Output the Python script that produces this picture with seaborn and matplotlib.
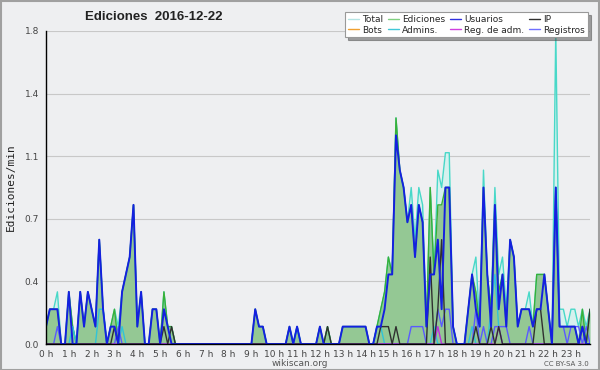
import matplotlib
matplotlib.use("Agg")
import matplotlib.pyplot as plt
from matplotlib.lines import Line2D
from matplotlib.patches import Rectangle
import seaborn as sns
import numpy as np
import pandas as pd

# one value per 10 minutes, 6 per hour (edits per minute)
total = [
    0.1, 0.2, 0.2, 0.3, 0, 0,        # 0 h
    0.3, 0.1, 0, 0.3, 0.1, 0.3,      # 1 h
    0.2, 0.1, 0.6, 0.2, 0, 0.1,      # 2 h
    0.2, 0.1, 0.3, 0.4, 0.5, 0.8,    # 3 h
    0.1, 0.3, 0, 0, 0.2, 0.2,        # 4 h
    0, 0.3, 0.1, 0.1, 0, 0,          # 5 h
    0, 0, 0, 0, 0, 0,                # 6 h
    0, 0, 0, 0, 0, 0,                # 7 h
    0, 0, 0, 0, 0, 0,                # 8 h
    0, 0.2, 0.1, 0.1, 0, 0,          # 9 h
    0, 0, 0, 0, 0.1, 0,              # 10 h
    0.1, 0, 0, 0, 0, 0,              # 11 h
    0.1, 0, 0.1, 0, 0, 0,            # 12 h
    0.1, 0.1, 0.1, 0.1, 0.1, 0.1,    # 13 h
    0.1, 0, 0, 0.1, 0.2, 0.3,        # 14 h
    0.5, 0.4, 1.3, 1.0, 0.9, 0.7,    # 15 h
    0.9, 0.6, 0.9, 0.8, 0.1, 0.9,    # 16 h
    0.4, 1.0, 0.9, 1.1, 1.1, 0.1,    # 17 h
    0, 0, 0, 0.2, 0.4, 0.5,          # 18 h
    0.1, 1.0, 0.4, 0.2, 0.9, 0.4,    # 19 h
    0.5, 0.2, 0.6, 0.5, 0.1, 0.2,    # 20 h
    0.2, 0.3, 0.1, 0.4, 0.4, 0.4,    # 21 h
    0.2, 0, 1.8, 0.2, 0.2, 0.1,      # 22 h
    0.2, 0.2, 0.1, 0.2, 0.1, 0.2,    # 23 h
]
ediciones = [
    0.1, 0.2, 0.2, 0.2, 0, 0,
    0.3, 0.1, 0, 0.3, 0.1, 0.3,
    0.2, 0.1, 0.6, 0.2, 0, 0.1,
    0.2, 0, 0.3, 0.4, 0.5, 0.8,
    0.1, 0.3, 0, 0, 0.2, 0.2,
    0, 0.3, 0.1, 0.1, 0, 0,
    0, 0, 0, 0, 0, 0,
    0, 0, 0, 0, 0, 0,
    0, 0, 0, 0, 0, 0,
    0, 0.2, 0.1, 0.1, 0, 0,
    0, 0, 0, 0, 0.1, 0,
    0.1, 0, 0, 0, 0, 0,
    0.1, 0, 0.1, 0, 0, 0,
    0.1, 0.1, 0.1, 0.1, 0.1, 0.1,
    0.1, 0, 0, 0.1, 0.2, 0.3,
    0.5, 0.4, 1.3, 1.0, 0.9, 0.7,
    0.8, 0.5, 0.8, 0.7, 0.1, 0.9,
    0.4, 0.8, 0.8, 0.9, 0.9, 0.1,
    0, 0, 0, 0.2, 0.4, 0.3,
    0.1, 0.9, 0.4, 0.2, 0.8, 0.3,
    0.4, 0.1, 0.6, 0.5, 0.1, 0.2,
    0.2, 0.2, 0.1, 0.4, 0.4, 0.4,
    0.2, 0, 0.9, 0.1, 0.1, 0.1,
    0.1, 0.1, 0, 0.2, 0, 0.2,
]
usuarios = [
    0.1, 0.2, 0.2, 0.2, 0, 0,
    0.3, 0, 0, 0.3, 0.1, 0.3,
    0.2, 0.1, 0.6, 0.2, 0, 0.1,
    0.1, 0, 0.3, 0.4, 0.5, 0.8,
    0.1, 0.3, 0, 0, 0.2, 0.2,
    0, 0.2, 0.1, 0, 0, 0,
    0, 0, 0, 0, 0, 0,
    0, 0, 0, 0, 0, 0,
    0, 0, 0, 0, 0, 0,
    0, 0.2, 0.1, 0.1, 0, 0,
    0, 0, 0, 0, 0.1, 0,
    0.1, 0, 0, 0, 0, 0,
    0.1, 0, 0, 0, 0, 0,
    0.1, 0.1, 0.1, 0.1, 0.1, 0.1,
    0.1, 0, 0, 0.1, 0.1, 0.2,
    0.4, 0.4, 1.2, 1.0, 0.9, 0.7,
    0.8, 0.5, 0.8, 0.7, 0.1, 0.4,
    0.4, 0.6, 0.2, 0.9, 0.9, 0.1,
    0, 0, 0, 0.2, 0.4, 0.2,
    0.1, 0.9, 0.4, 0.1, 0.8, 0.2,
    0.4, 0.1, 0.6, 0.5, 0.1, 0.2,
    0.2, 0.2, 0.1, 0.2, 0.2, 0.4,
    0.2, 0, 0.9, 0.1, 0.1, 0.1,
    0.1, 0.1, 0, 0.1, 0, 0,
]
ip = [
    0, 0, 0, 0, 0, 0,
    0, 0, 0, 0, 0, 0,
    0, 0, 0, 0, 0, 0,
    0.1, 0, 0, 0, 0, 0,
    0, 0, 0, 0, 0, 0,
    0, 0.1, 0, 0.1, 0, 0,
    0, 0, 0, 0, 0, 0,
    0, 0, 0, 0, 0, 0,
    0, 0, 0, 0, 0, 0,
    0, 0, 0, 0, 0, 0,
    0, 0, 0, 0, 0, 0,
    0, 0, 0, 0, 0, 0,
    0, 0, 0.1, 0, 0, 0,
    0, 0, 0, 0, 0, 0,
    0, 0, 0, 0, 0.1, 0.1,
    0.1, 0, 0.1, 0, 0, 0,
    0, 0, 0, 0, 0, 0.5,
    0, 0.2, 0.6, 0, 0, 0,
    0, 0, 0, 0, 0, 0.1,
    0, 0, 0, 0.1, 0, 0.1,
    0, 0, 0, 0, 0, 0,
    0, 0, 0, 0.2, 0.2, 0,
    0, 0, 0, 0, 0, 0,
    0, 0, 0, 0.1, 0, 0.2,
]
admins = [
    0, 0, 0, 0, 0, 0,
    0, 0.1, 0, 0, 0, 0,
    0, 0, 0.2, 0.2, 0, 0,
    0, 0, 0.1, 0, 0, 0,
    0, 0, 0, 0, 0, 0,
    0, 0, 0, 0, 0, 0,
    0, 0, 0, 0, 0, 0,
    0, 0, 0, 0, 0, 0,
    0, 0, 0, 0, 0, 0,
    0, 0, 0, 0, 0, 0,
    0, 0, 0, 0, 0, 0,
    0.1, 0, 0, 0, 0, 0,
    0, 0, 0, 0, 0, 0,
    0, 0, 0, 0, 0, 0,
    0, 0, 0, 0.1, 0.1, 0,
    0, 0, 0, 0, 0, 0,
    0, 0, 0, 0, 0, 0,
    0.1, 0, 0, 0, 0, 0,
    0, 0, 0, 0, 0.1, 0,
    0, 0, 0, 0.2, 0.4, 0.1,
    0, 0, 0, 0, 0, 0,
    0, 0, 0, 0, 0, 0,
    0, 0, 0, 0, 0, 0,
    0, 0, 0, 0, 0, 0,
]
reg_adm = [0] * 103 + [0.1] + [0] * 15 + [0.1] + [0] * 24
registros = [
    0, 0, 0, 0.1, 0, 0,
    0, 0, 0, 0, 0, 0,
    0, 0, 0, 0, 0, 0,
    0, 0.1, 0, 0, 0, 0,
    0, 0, 0, 0, 0, 0,
    0, 0, 0, 0, 0, 0,
    0, 0, 0, 0, 0, 0,
    0, 0, 0, 0, 0, 0,
    0, 0, 0, 0, 0, 0,
    0, 0, 0, 0, 0, 0,
    0, 0, 0, 0, 0, 0,
    0, 0, 0, 0, 0, 0,
    0, 0, 0, 0, 0, 0,
    0, 0, 0, 0, 0, 0,
    0, 0, 0, 0, 0, 0,
    0, 0, 0, 0, 0, 0,
    0.1, 0.1, 0.1, 0.1, 0, 0,
    0, 0.2, 0.1, 0.2, 0.2, 0,
    0, 0, 0, 0, 0, 0.2,
    0, 0.1, 0, 0, 0.1, 0.1,
    0.1, 0.1, 0, 0, 0, 0,
    0, 0.1, 0, 0, 0, 0,
    0, 0, 0.9, 0.1, 0.1, 0,
    0.1, 0.1, 0.1, 0, 0.1, 0,
]
bots = [0] * 144

hours = [i / 6 for i in range(144)]

df = pd.DataFrame({
    'hora': hours, 'Total': total, 'Ediciones': ediciones, 'Usuarios': usuarios,
    'IP': ip, 'Bots': bots, 'Admins.': admins, 'Reg. de adm.': reg_adm,
    'Registros': registros,
})

bg = '#eeeff1'
sns.set_style('white')
plt.rcParams['font.family'] = ['DejaVu Sans']

fig = plt.figure(figsize=(6, 3.7), dpi=100, facecolor=bg)
ax = fig.add_axes([46 / 600, 1 - 344 / 370, 544 / 600, 313 / 370])
ax.set_facecolor(bg)

# fills
ax.fill_between(df['hora'], df['Total'], color='#d6f1ee', lw=0)
ax.fill_between(df['hora'], df['Ediciones'], color='#94c894', lw=0)

line_styles = [
    ('Total', '#48d8c8', 1.0),
    ('Ediciones', '#38b038', 1.0),
    ('Bots', '#f0a030', 1.0),
    ('Admins.', '#30c4d8', 1.0),
    ('Registros', '#5a5aff', 1.0),
    ('Reg. de adm.', '#c030e0', 1.0),
    ('IP', '#303030', 1.0),
    ('Usuarios', '#1420e0', 1.4),
]
for name, col, lw in line_styles:
    sns.lineplot(data=df, x='hora', y=name, ax=ax, color=col, linewidth=lw,
                 legend=False)

ax.set_xlim(0, 143 / 6)
ax.set_ylim(0, 1.8)
ax.set_xlabel('')
ax.set_ylabel('')

yt = [0, 0.36, 0.72, 1.08, 1.44, 1.8]
ax.set_yticks(yt)
ax.set_yticklabels(['0.0', '0.4', '0.7', '1.1', '1.4', '1.8'])
ax.set_yticks(np.arange(0, 1.81, 0.09), minor=True)
ax.set_xticks(range(24))
ax.set_xticklabels([f'{h} h' for h in range(24)])
ax.set_xticks(np.arange(0, 143.5) / 6, minor=True)
ax.grid(axis='y', color='#c8c8c8', lw=0.8)
ax.set_axisbelow(True)

for s in ['top', 'right']:
    ax.spines[s].set_visible(False)
for s in ['left', 'bottom']:
    ax.spines[s].set_color('black')
    ax.spines[s].set_linewidth(1.0)
ax.tick_params(axis='both', which='major', length=4, width=0.8, color='black',
               labelsize=6.5, labelcolor='#444444', pad=1)
ax.tick_params(axis='both', which='minor', length=3, width=0.8, color='black')
ax.tick_params(axis='x', which='major', length=4, pad=0)

fig.text(154 / 600, 1 - 17 / 370, 'Ediciones  2016-12-22', ha='center',
         va='center', fontsize=9.5, fontweight='bold', color='#222222',
         family='Liberation Sans')
fig.text(11 / 600, 1 - 187 / 370, 'Ediciones/min', rotation=90, ha='center',
         va='center', fontsize=8, color='#222222', family='DejaVu Sans Mono')
fig.text(300 / 600, 1 - 364 / 370, 'wikiscan.org', ha='center', va='center',
         fontsize=6.5, color='#555555')
fig.text(589 / 600, 1 - 364 / 370, 'CC BY-SA 3.0', ha='right', va='center',
         fontsize=5, color='#555555')

handles = [
    Line2D([], [], color='#b4e4e4', lw=1, label='Total'),
    Line2D([], [], color='#f0a030', lw=1, label='Bots'),
    Line2D([], [], color='#80d080', lw=1, label='Ediciones'),
    Line2D([], [], color='#40c8d8', lw=1, label='Admins.'),
    Line2D([], [], color='#3030e0', lw=1, label='Usuarios'),
    Line2D([], [], color='#d040e0', lw=1, label='Reg. de adm.'),
    Line2D([], [], color='#303030', lw=1, label='IP'),
    Line2D([], [], color='#7070ff', lw=1, label='Registros'),
]
leg = fig.legend(handles=handles, ncol=4, loc='upper right',
                 bbox_to_anchor=(588 / 600, 1 - 12 / 370), fontsize=6.5,
                 frameon=True, fancybox=False, shadow=True, handlelength=1.2,
                 handletextpad=0.4, columnspacing=0.5, labelspacing=0.2,
                 borderpad=0.3, borderaxespad=0)
leg.get_frame().set_edgecolor('#999999')
leg.get_frame().set_facecolor('white')
leg.get_frame().set_linewidth(0.8)

fig.patches.append(Rectangle((0.001, 0.001), 0.997, 0.997,
                             transform=fig.transFigure, fill=False,
                             edgecolor='#a0a0a0', lw=1.5))

fig.savefig('out.png', dpi=100, facecolor=bg)
